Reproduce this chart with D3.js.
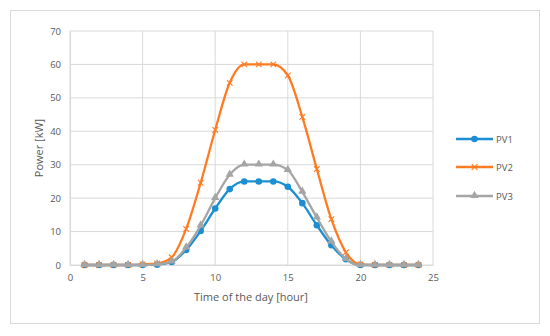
<!DOCTYPE html>
<html><head><meta charset="utf-8">
<script src="https://cdn.jsdelivr.net/npm/d3@7"></script>
<style>body{margin:0;background:#fff;font-family:"Open Sans",Calibri,sans-serif;}</style>
</head><body>
<svg id="c" width="550" height="336"></svg>
<script>
const hours = d3.range(1, 25);
const pv1 = [0,0,0,0,0,0.1,0.9,4.5,10.2,16.9,22.7,25,25,25,23.4,18.5,11.9,5.9,1.7,0,0,0,0,0];
const pv2 = [0,0,0,0,0.2,0.5,2.3,10.8,24.6,40.4,54.5,60,60,60,56.7,44.3,28.7,13.7,3.8,0.2,0,0,0,0];
const pv3 = [0,0,0,0,0,0.2,1,5.2,11.8,20,27,30,30,30,28.4,21.9,14.2,7,1.8,0,0,0,0,0];
const seriesNames = ["PV1","PV2","PV3"];
const colors = ["#1b8fd2","#ff7b21","#a5a5a5"];
const xTicks = [0,5,10,15,20,25];
const yTicks = [0,10,20,30,40,50,60,70];

const svg = d3.select("#c");
svg.append("rect").attr("x",10.5).attr("y",10.5).attr("width",529).attr("height",313)
  .attr("fill","#fff").attr("stroke","#d9d9d9").attr("stroke-width",1);

const x = d3.scaleLinear().domain([0,25]).range([70,433]);
const y = d3.scaleLinear().domain([0,70]).range([265,31]);

const grid = svg.append("g");
grid.selectAll(".gy").data(yTicks).join("line")
  .attr("x1",x(0)).attr("x2",x(25)).attr("y1",d=>y(d)).attr("y2",d=>y(d))
  .attr("stroke","#d9d9d9").attr("stroke-width",1);
grid.selectAll(".gx").data(xTicks).join("line")
  .attr("y1",y(0)).attr("y2",y(70)).attr("x1",d=>x(d)).attr("x2",d=>x(d))
  .attr("stroke","#d9d9d9").attr("stroke-width",1);

const xAxis = svg.append("g").attr("transform",`translate(0,${y(0)})`)
  .call(d3.axisBottom(x).tickValues(xTicks).tickSize(0).tickPadding(9));
const yAxis = svg.append("g").attr("transform",`translate(${x(0)},0)`)
  .call(d3.axisLeft(y).tickValues(yTicks).tickSize(0).tickPadding(9));
[xAxis,yAxis].forEach(a=>{
  a.select(".domain").attr("stroke","#d9d9d9");
  a.selectAll("text").attr("fill","#595959").attr("font-size","9.5px").attr("font-family","'Open Sans',sans-serif");
});

svg.append("text").attr("x",251).attr("y",301).attr("text-anchor","middle")
  .attr("fill","#595959").attr("font-size","11px").text("Time of the day [hour]");
svg.append("text").attr("transform",`translate(43,${y(35)}) rotate(-90)`).attr("text-anchor","middle")
  .attr("fill","#595959").attr("font-size","11px").text("Power [kW]");

const allSeries = [pv1,pv2,pv3];
const line = d3.line().x((d,i)=>x(hours[i])).y(d=>y(d)).curve(d3.curveMonotoneX);

function marker(g, type, color, cx, cy){
  if(type===0){
    g.append("circle").attr("cx",cx).attr("cy",cy).attr("r",3.3).attr("fill",color);
  } else if(type===1){
    const s=2.8;
    g.append("path").attr("d",`M${cx-s},${cy-s}L${cx+s},${cy+s}M${cx-s},${cy+s}L${cx+s},${cy-s}`)
      .attr("stroke",color).attr("stroke-width",1.1).attr("fill","none");
  } else {
    g.append("path").attr("d",d3.symbol(d3.symbolTriangle,30)()).attr("transform",`translate(${cx},${cy-0.5})`)
      .attr("fill",color);
  }
}

// draw order: PV1, PV2, PV3 (PV3 on top)
allSeries.forEach((s,k)=>{
  const g = svg.append("g");
  g.append("path").datum(s).attr("d",line).attr("fill","none")
    .attr("stroke",colors[k]).attr("stroke-width",2.3).attr("stroke-linejoin","round");
  s.forEach((v,i)=>marker(g,k,colors[k],x(hours[i]),y(v)));
});

const legY = [139,167,196];
seriesNames.forEach((n,k)=>{
  const g = svg.append("g");
  g.append("line").attr("x1",456).attr("x2",493).attr("y1",legY[k]).attr("y2",legY[k])
    .attr("stroke",colors[k]).attr("stroke-width",2.3);
  marker(g,k,colors[k],474.5,legY[k]);
  g.append("text").attr("x",496).attr("y",legY[k]+3.5).attr("fill","#595959")
    .attr("font-size","9.5px").text(n);
});
</script>
</body></html>
